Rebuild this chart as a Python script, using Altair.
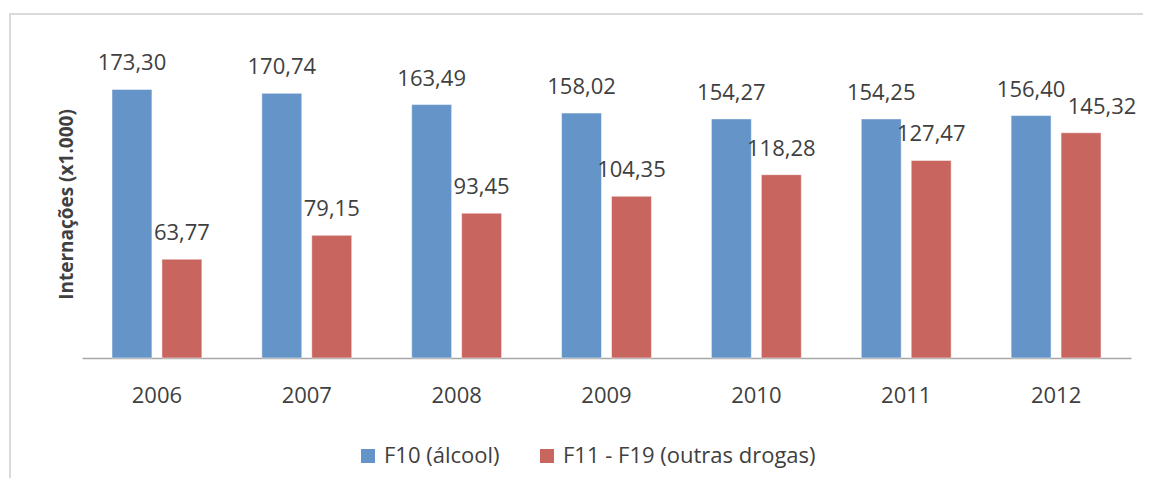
import altair as alt
import pandas as pd

years = ["2006", "2007", "2008", "2009", "2010", "2011", "2012"]
alcool = [173.30, 170.74, 163.49, 158.02, 154.27, 154.25, 156.40]
outras = [63.77, 79.15, 93.45, 104.35, 118.28, 127.47, 145.32]
series = ["F10 (álcool)", "F11 - F19 (outras drogas)"]
colors = ["#6595c8", "#c9655f"]

rows = []
for y, a, o in zip(years, alcool, outras):
    rows.append({"ano": y, "serie": series[0], "valor": a})
    rows.append({"ano": y, "serie": series[1], "valor": o})
df = pd.DataFrame(rows)
df["rotulo"] = df["valor"].map(lambda v: f"{v:.2f}".replace(".", ","))

FONT = "Open Sans"
TXT = "#404040"

x = alt.X("ano:N", sort=years,
          scale=alt.Scale(paddingInner=1/3, paddingOuter=1/6),
          axis=alt.Axis(title=None, labelAngle=0, ticks=False, labelFontSize=22,
                        labelFont=FONT, labelColor=TXT, labelPadding=27,
                        domainColor="#a6a6a6", domainWidth=1.5))
xo = alt.XOffset("serie:N", sort=series,
                 scale=alt.Scale(paddingInner=0.2, paddingOuter=0.1))
y = alt.Y("valor:Q", scale=alt.Scale(domain=[0, 200], nice=False),
          axis=alt.Axis(title="Internações (x1.000)", labels=False, ticks=False,
                        domain=False, grid=False, titleFont=FONT, titleFontSize=19,
                        titleFontWeight="bold", titleColor=TXT, titleAngle=270,
                        titleAlign="center", titleBaseline="middle",
                        titleX=-16, titleY=156))
color = alt.Color("serie:N", sort=series,
                  scale=alt.Scale(domain=series, range=colors),
                  legend=alt.Legend(title=None, orient="none", legendX=275, legendY=397,
                                    direction="horizontal", symbolType="square",
                                    symbolSize=196, symbolStrokeWidth=0,
                                    labelFont=FONT, labelFontSize=22, labelColor=TXT,
                                    labelLimit=0, labelOffset=5, columnPadding=36,
                                    padding=0))

base = alt.Chart(df)

bars = base.mark_bar(stroke="white", strokeWidth=0.5).encode(x=x, xOffset=xo, y=y, color=color)

labels_main = base.transform_filter(
    "!(datum.ano == '2012' && datum.serie == 'F11 - F19 (outras drogas)')"
).mark_text(dy=-19, baseline="alphabetic", font=FONT, fontSize=22, color=TXT).encode(
    x=x, xOffset=xo, y=y, text="rotulo:N")

labels_shift = base.transform_filter(
    "datum.ano == '2012' && datum.serie == 'F11 - F19 (outras drogas)'"
).mark_text(dy=-19, dx=21, baseline="alphabetic", font=FONT, fontSize=22, color=TXT).encode(
    x=x, xOffset=xo, y=y, text="rotulo:N")

# top and left frame lines of the chart box (right and bottom run off the picture)
frame_top = alt.Chart(alt.Data(values=[{}])).mark_rule(
    stroke="#d9d9d9", strokeWidth=2).encode(
    x=alt.value(-72), x2=alt.value(1100), y=alt.value(-34))
frame_left = alt.Chart(alt.Data(values=[{}])).mark_rule(
    stroke="#d9d9d9", strokeWidth=2).encode(
    x=alt.value(-72), y=alt.value(-35), y2=alt.value(460))

chart = alt.layer(frame_top, frame_left, bars, labels_main, labels_shift).properties(
    width=1049, height=310,
    padding={"left": 74, "top": 40, "right": 12, "bottom": 120},
    autosize=alt.AutoSizeParams(type="none"),
    background="white",
).configure_view(strokeWidth=0, stroke="transparent")

chart.save("out.html", embed_options={"renderer": "svg", "actions": False})
